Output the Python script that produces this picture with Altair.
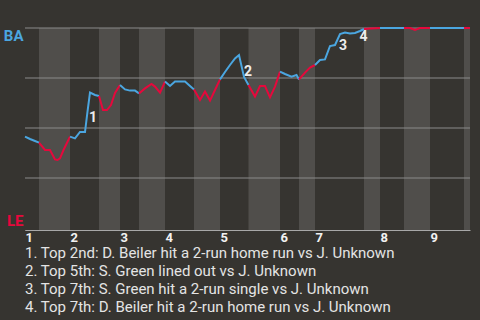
import altair as alt
import pandas as pd

# ---- data ----
# play index (x) and BA win probability in percent (y)
play = [0, 1, 2, 2.8,
        4, 5, 6, 6.5, 7, 7.7, 9,
        10, 11, 12, 12.5, 13, 14, 14.8,
        15.6, 16.4, 17.2, 18, 19,
        20, 21, 22, 22.3, 22.8,
        24, 25.3, 26, 27, 28,
        29, 30, 32, 33, 33.8,
        35, 36, 37, 38, 39,
        40, 41, 42, 42.8, 43.8, 44.7,
        46, 47, 48, 49, 50, 51,
        52, 53.3, 54.3, 54.8,
        56, 57, 58,
        59, 60, 61, 62, 63, 64, 65, 66, 67, 67.8,
        69, 71,
        75.8,
        77, 78, 79, 81,
        87.8,
        89]
ba_pct = [45.7, 44.5, 43.5, 42.7,
          39, 39, 34.3, 34, 34.8, 39, 45.7,
          44.8, 48, 48, 58.2, 67.7, 66.5, 66,
          59, 59, 61.5, 67.5, 71.5,
          69.3, 68.7, 68.7, 68.2, 67.3,
          69.8, 72, 70.7, 67.7, 73.2,
          71, 73.2, 73.2, 71, 69.3,
          64, 68.2, 63.7, 69, 74.3,
          78, 81.5, 84.8, 86.5, 75.5, 71.5,
          65.7, 71, 71, 65.3, 70.7, 78.2,
          77, 75.7, 76.5, 74.3,
          77.7, 80.2, 81.5,
          84, 84.3, 91, 91.5, 97, 97.7, 97.2, 97.5, 98.5, 99.5,
          99.8, 100,
          100,
          100, 99, 100, 100,
          100,
          100]

# half-innings: start of each, batting team
half_start = [0, 2.8, 9, 14.8, 19, 22.8, 28, 33.8, 39, 44.7, 51, 54.8, 58, 67.8, 71, 75.8, 81, 87.8]
half_end = half_start[1:] + [89]
half_team = ["BA", "LE"] * 9

inning_start = [0, 9, 19, 28, 39, 51, 58, 71, 81]
grid_vals = [25, 50, 75, 100]

ann_x = [13.6, 44.6, 63.6, 67.7]
ann_y = [54.8, 78.0, 91.0, 95.6]
ann_text = ["1", "2", "3", "4"]

notes = [
    "1. Top 2nd: D. Beiler hit a 2-run home run vs J. Unknown",
    "2. Top 5th: S. Green lined out vs J. Unknown",
    "3. Top 7th: S. Green hit a 2-run single vs J. Unknown",
    "4. Top 7th: D. Beiler hit a 2-run home run vs J. Unknown",
]

BLUE = "#4ba6e0"
RED = "#e6083c"
BG = "#363430"
BAND = "#504e4b"

# ---- tables ----
rows = []
for i, (s, e, t) in enumerate(zip(half_start, half_end, half_team)):
    for x, y in zip(play, ba_pct):
        if s <= x <= e:
            rows.append({"play": x, "pct": y, "half": i, "team": t})
line_df = pd.DataFrame(rows)
bands_df = pd.DataFrame({"start": half_start, "end": half_end, "team": half_team})
grid_df = pd.DataFrame({"g": grid_vals})
ann_df = pd.DataFrame({"x": ann_x, "y": ann_y, "t": ann_text})

xscale = alt.Scale(domain=[0, 89], nice=False, zero=False)
yscale = alt.Scale(domain=[-1, 100], nice=False, zero=False)

inn_list = "[" + ",".join(str(v) for v in inning_start) + "]"

bands = alt.Chart(bands_df).mark_rect().encode(
    x=alt.X("start:Q", scale=xscale, title=None,
            axis=alt.Axis(values=inning_start, grid=False, ticks=False,
                          labelExpr="'' + (indexof(" + inn_list + ", datum.value) + 1)",
                          labelAlign="left", labelFlush=False, labelPadding=1,
                          labelFont="Roboto", labelFontWeight="bold", labelFontSize=13,
                          labelColor="#f2f2f2", domainColor="#a8a8a8", labelOverlap=False)),
    x2="end:Q",
    color=alt.Color("team:N", scale=alt.Scale(domain=["BA", "LE"], range=[BG, BAND]), legend=None),
)

grid = alt.Chart(grid_df).mark_rule(color="#8a8a8a", strokeWidth=1).encode(
    y=alt.Y("g:Q", scale=yscale, title=None,
            axis=alt.Axis(values=[0, 100], grid=False, ticks=False,
                          labelExpr="datum.value > 50 ? 'BA' : 'LE'",
                          labelColor={"expr": "datum.value > 50 ? '" + BLUE + "' : '" + RED + "'"},
                          labelBaseline={"expr": "datum.value > 50 ? 'top' : 'bottom'"},
                          labelFont="Roboto", labelFontWeight="bold", labelFontSize=15,
                          labelPadding=2, domainColor="#a8a8a8")),
)

line = alt.Chart(line_df).mark_line(strokeWidth=2).encode(
    x=alt.X("play:Q", scale=xscale),
    y=alt.Y("pct:Q", scale=yscale),
    color=alt.Color("team:N", scale=alt.Scale(domain=["BA", "LE"], range=[BLUE, RED]), legend=None),
    detail="half:N",
    order="play:Q",
)

ann = alt.Chart(ann_df).mark_text(font="Roboto", fontWeight="bold", fontSize=14,
                                  color="#ececec").encode(
    x=alt.X("x:Q", scale=xscale),
    y=alt.Y("y:Q", scale=yscale),
    text="t:N",
)

chart = alt.layer(bands, grid, line, ann).resolve_scale(color="independent").properties(
    width=445, height=202,
    autosize=alt.AutoSizeParams(type="none"),
    padding={"left": 25, "top": 28, "right": 10, "bottom": 90},
    background=BG,
    title=alt.TitleParams(text=notes, orient="bottom", anchor="start", frame="group",
                          font="Roboto", fontSize=15, fontWeight="normal",
                          color="#e4e4e4", lineHeight=18, offset=2),
).configure_view(stroke=None)

chart.save("out.html", embed_options={"renderer": "svg", "actions": False})
